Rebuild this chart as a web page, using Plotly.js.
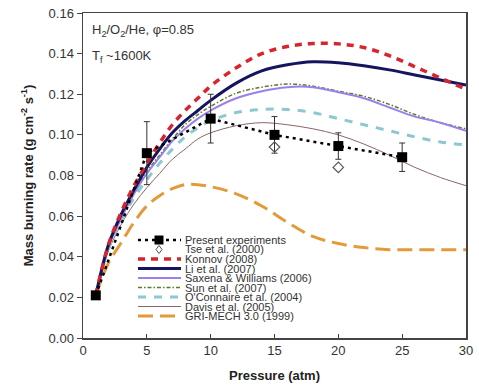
<!DOCTYPE html>
<html><head><meta charset="utf-8">
<script src="https://cdn.plot.ly/plotly-3.0.1.min.js"></script>
<style>html,body{margin:0;padding:0;background:#fff}#c{width:479px;height:389px}</style>
</head><body><div id="c"></div>
<script>
// ---- data ----
const expP = [1, 5, 10, 15, 20, 25];
const expRate = [0.021, 0.091, 0.108, 0.100, 0.0945, 0.089];
const expErr = [0, 0.0155, 0.012, 0.009, 0.0065, 0.007];
const tseP = [15, 20];
const tseRate = [0.094, 0.084];
const modelP = [1, 2, 3, 4, 5, 6, 7, 8, 9, 10, 12, 14, 16, 18, 20, 22, 24, 26, 28, 30];
const konnov =   [0.021, 0.046, 0.062, 0.075, 0.086, 0.096, 0.105, 0.112, 0.118, 0.124, 0.133, 0.140, 0.1435, 0.145, 0.1448, 0.143, 0.139, 0.1335, 0.128, 0.1225];
const li =       [0.021, 0.046, 0.061, 0.073, 0.084, 0.093, 0.101, 0.107, 0.112, 0.117, 0.1255, 0.1315, 0.1345, 0.136, 0.1355, 0.134, 0.132, 0.1295, 0.127, 0.1245];
const saxena =   [0.021, 0.045, 0.059, 0.071, 0.081, 0.089, 0.097, 0.103, 0.108, 0.112, 0.118, 0.1215, 0.1235, 0.1235, 0.121, 0.118, 0.1135, 0.109, 0.106, 0.102];
const sun =      [0.021, 0.045, 0.059, 0.072, 0.082, 0.090, 0.098, 0.105, 0.110, 0.114, 0.1205, 0.1235, 0.125, 0.124, 0.1215, 0.119, 0.115, 0.110, 0.106, 0.103];
const oconnaire= [0.021, 0.044, 0.058, 0.069, 0.078, 0.086, 0.093, 0.099, 0.1035, 0.107, 0.111, 0.1125, 0.1125, 0.111, 0.108, 0.105, 0.102, 0.099, 0.0965, 0.095];
const davis =    [0.021, 0.043, 0.056, 0.066, 0.074, 0.081, 0.088, 0.093, 0.098, 0.101, 0.1045, 0.106, 0.105, 0.103, 0.100, 0.0955, 0.090, 0.084, 0.079, 0.075];
const grimech =  [0.021, 0.037, 0.047, 0.057, 0.065, 0.070, 0.0735, 0.0755, 0.0755, 0.0745, 0.071, 0.065, 0.057, 0.050, 0.0465, 0.0445, 0.0435, 0.0435, 0.0435, 0.0435];
const seriesNames = ["Present experiments", "Tse et al. (2000)", "Konnov (2008)", "Li et al. (2007)",
  "Saxena & Williams (2006)", "Sun et al. (2007)", "O'Connaire et al. (2004)", "Davis et al. (2005)", "GRI-MECH 3.0 (1999)"];
const xTickVals = [0, 5, 10, 15, 20, 25, 30];
const yTickVals = [0, 0.02, 0.04, 0.06, 0.08, 0.10, 0.12, 0.14, 0.16];

// ---- styles ----
const styles = [
  {color: "#000000", width: 2.5, dash: "3px,4px"},
  null,
  {color: "#d9232d", width: 3.5, dash: "7px,6px"},
  {color: "#15155f", width: 3, dash: "solid"},
  {color: "#9a80e8", width: 2, dash: "solid"},
  {color: "#5f7a2a", width: 1.5, dash: "4px,2px,1.5px,2px"},
  {color: "#8cc8d0", width: 3, dash: "8px,8px"},
  {color: "#8a6666", width: 1, dash: "solid"},
  {color: "#e49a3a", width: 3, dash: "15px,7px"}
];
const modelSeries = [null, null, konnov, li, saxena, sun, oconnaire, davis, grimech];

const traces = [];
[8, 7, 6, 5, 4, 3, 2].forEach(i => {
  traces.push({x: modelP, y: modelSeries[i], type: "scatter", mode: "lines", name: seriesNames[i],
    line: {color: styles[i].color, width: styles[i].width, dash: styles[i].dash, shape: "spline", smoothing: 1},
    showlegend: false, hoverinfo: "skip"});
});
traces.push({x: expP, y: expRate, type: "scatter", mode: "lines+markers", name: seriesNames[0],
  line: {color: "#000", width: styles[0].width, dash: styles[0].dash},
  marker: {symbol: "square", size: 10, color: "#000"},
  error_y: {type: "data", array: expErr, visible: true, color: "#333", thickness: 1, width: 3},
  showlegend: false});
traces.push({x: tseP, y: tseRate, type: "scatter", mode: "markers", name: seriesNames[1],
  marker: {symbol: "diamond-open", size: 8, color: "#555", line: {width: 1.2}}, showlegend: false});

// ---- custom compact legend ----
const plotL = 83, plotR = 466, plotT = 13, plotB = 338;
const W = plotR - plotL, H = plotB - plotT;
const px2x = p => (p - plotL) / W;
const py2y = p => (plotB - p) / H;
const shapes = [], annotations = [];
const legTop = 240, legStep = 9.5, sampleL = 138, sampleR = 181, textL = 183;
seriesNames.forEach((name, i) => {
  const yy = py2y(legTop + i * legStep);
  if (styles[i]) {
    shapes.push({type: "line", xref: "paper", yref: "paper", x0: px2x(sampleL), x1: px2x(sampleR), y0: yy, y1: yy,
      line: {color: styles[i].color, width: styles[i].width, dash: styles[i].dash}});
  }
  if (i === 0) {
    shapes.push({type: "rect", xref: "paper", yref: "paper", xsizemode: "pixel", ysizemode: "pixel",
      xanchor: px2x(159), yanchor: yy, x0: -4.5, x1: 4.5, y0: -4.5, y1: 4.5, fillcolor: "#000", line: {width: 0}});
  }
  if (i === 1) {
    shapes.push({type: "path", xref: "paper", yref: "paper", xsizemode: "pixel", ysizemode: "pixel",
      xanchor: px2x(159), yanchor: yy, path: "M 0 4 L 3 0 L 0 -4 L -3 0 Z", fillcolor: "#fff", line: {color: "#555", width: 1}});
  }
  annotations.push({xref: "paper", yref: "paper", x: px2x(textL), y: yy, xanchor: "left", yanchor: "middle",
    text: name, showarrow: false, font: {family: "Liberation Sans, Arial", size: 11, color: "#333"}});
});
annotations.push({xref: "paper", yref: "paper", x: px2x(90), y: py2y(31), xanchor: "left", yanchor: "middle",
  text: "H<sub>2</sub>/O<sub>2</sub>/He, φ=0.85", showarrow: false, font: {family: "Liberation Sans, Arial", size: 13, color: "#333"}});
annotations.push({xref: "paper", yref: "paper", x: px2x(90), y: py2y(56), xanchor: "left", yanchor: "middle",
  text: "T<sub>f</sub> ~1600K", showarrow: false, font: {family: "Liberation Sans, Arial", size: 13, color: "#333"}});

const layout = {
  width: 479, height: 389,
  margin: {l: plotL, r: 479 - plotR, t: plotT, b: 389 - plotB},
  paper_bgcolor: "#fff", plot_bgcolor: "#fff",
  font: {family: "Liberation Sans, Arial", size: 13, color: "#333"},
  showlegend: false,
  xaxis: {range: [0, 30], tickvals: xTickVals, ticks: "inside", ticklen: 4, tickcolor: "#444",
    showline: true, linecolor: "#444", linewidth: 1.5, mirror: true, showgrid: false, zeroline: false,
    tickfont: {size: 13, color: "#333"},
    title: {text: "<b>Pressure (atm)</b>", font: {size: 13, color: "#222"}, standoff: 14}},
  yaxis: {range: [0, 0.16], tickvals: yTickVals, tickformat: ".2f", ticks: "outside", ticklen: 5, tickcolor: "#444",
    showline: true, linecolor: "#444", linewidth: 1.5, mirror: true, showgrid: false, zeroline: false,
    tickfont: {size: 13, color: "#333"},
    title: {text: "<b>Mass burning rate (g cm<sup>-2</sup> s<sup>-1</sup>)</b>", font: {size: 13, color: "#222"}, standoff: 12}},
  shapes: shapes, annotations: annotations
};
Plotly.newPlot("c", traces, layout, {staticPlot: true});
</script></body></html>
